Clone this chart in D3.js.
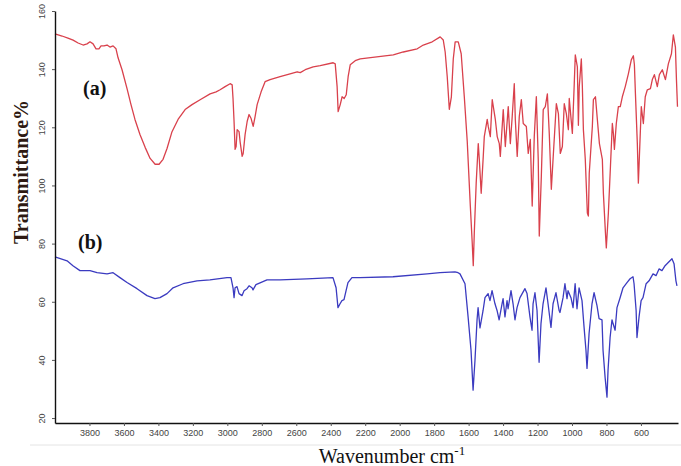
<!DOCTYPE html>
<html>
<head>
<meta charset="utf-8">
<script src="https://cdn.jsdelivr.net/npm/d3@7"></script>
<style>
  body { margin: 0; background: #fff; }
  svg { display: block; }
  .tick text { font-family: Arial, "Liberation Sans", sans-serif; font-size: 9px; fill: #444; }
</style>
</head>
<body>
<svg id="chart"></svg>
<script>
var svgw = 681
var svgh = 466

// wavenumber ticks and transmittance ticks
var xTicks = [3800, 3600, 3400, 3200, 3000, 2800, 2600, 2400, 2200, 2000, 1800, 1600, 1400, 1200, 1000, 800, 600]
var yTicks = [20, 40, 60, 80, 100, 120, 140, 160]

// spectrum (a): [wavenumber, transmittance]
var specA = [
 [4000,152.1],[3959,151.4],[3925,150.7],[3895,150.0],[3866,149.0],[3837,148.3],[3814,148.7],[3797,149.4],
 [3779,148.7],[3762,147.0],[3745,147.0],[3733,148.0],[3716,148.0],[3698,148.3],[3681,147.6],[3663,148.0],
 [3646,147.0],[3634,143.9],[3611,139.8],[3582,133.3],[3559,127.8],[3536,122.7],[3507,117.5],[3477,113.1],
 [3448,109.3],[3419,107.3],[3396,107.3],[3373,109.0],[3350,112.7],[3321,118.5],[3286,122.7],[3245,126.1],
 [3205,127.8],[3158,129.5],[3100,131.5],[3065,132.2],[3042,132.9],[3013,134.0],[2984,135.0],[2972,134.6],
 [2967,129.9],[2961,122.0],[2955,112.4],[2949,113.4],[2943,119.2],[2932,118.5],[2926,115.1],[2914,110.0],
 [2908,111.0],[2897,117.5],[2885,122.0],[2874,124.4],[2862,123.0],[2850,120.3],[2839,123.7],[2827,127.8],
 [2804,132.2],[2781,135.7],[2752,136.4],[2694,137.4],[2636,138.4],[2595,139.1],[2577,138.8],[2548,139.8],
 [2502,140.8],[2461,141.2],[2386,142.2],[2374,141.8],[2363,134.0],[2357,125.4],[2345,127.8],[2334,130.5],
 [2322,129.9],[2310,131.2],[2299,137.4],[2287,141.5],[2258,142.9],[2229,143.5],[2037,144.9],[1979,145.9],
 [1898,147.0],[1863,148.3],[1811,149.4],[1765,151.1],[1747,150.0],[1736,145.9],[1724,137.4],[1712,126.2],
 [1700,130.5],[1689,143.5],[1678,149.4],[1660,149.4],[1643,145.3],[1625,130.5],[1608,115.2],[1590,92.9],
 [1579,80.2],[1573,72.4],[1567,83.7],[1556,100.8],[1544,114.4],[1538,109.0],[1527,97.3],[1515,110.0],
 [1509,116.8],[1492,122.7],[1486,120.3],[1474,116.8],[1463,129.5],[1445,122.7],[1434,116.8],[1422,114.4],
 [1416,110.0],[1399,126.1],[1387,113.4],[1370,127.1],[1358,114.4],[1347,123.7],[1335,135.0],[1329,122.7],
 [1318,110.0],[1306,123.7],[1294,129.5],[1283,121.3],[1265,120.3],[1254,111.0],[1242,115.8],[1231,92.9],
 [1219,116.8],[1207,130.5],[1196,109.0],[1190,82.6],[1178,103.2],[1167,126.1],[1155,127.1],[1143,131.5],
 [1132,117.9],[1120,98.7],[1108,111.0],[1091,128.1],[1079,124.7],[1068,111.0],[1056,113.4],[1045,128.1],
 [1033,124.7],[1021,119.2],[1016,129.9],[998,117.9],[987,135.0],[981,144.9],[969,140.8],[963,120.7],
 [958,134.0],[946,143.5],[940,134.0],[934,119.2],[923,109.0],[911,90.5],[905,89.5],[900,104.2],
 [882,120.3],[876,129.5],[864,130.5],[853,122.7],[841,114.4],[824,109.0],[818,97.3],[806,83.7],
 [801,78.5],[789,90.5],[777,106.5],[766,121.3],[760,117.9],[754,112.4],[743,121.3],[731,127.1],
 [720,127.1],[708,130.5],[691,134.0],[673,138.4],[656,143.2],[644,144.6],[638,141.5],[632,131.5],
 [621,114.4],[615,100.8],[609,110.0],[598,127.1],[586,121.3],[575,130.5],[563,132.9],[545,133.3],
 [534,136.4],[522,138.1],[505,134.0],[493,138.1],[476,139.8],[458,136.4],[441,141.8],[423,145.3],
 [412,151.8],[400,147.6],[394,136.4],[388,127.1]
]

// spectrum (b): [wavenumber, transmittance]
var specB = [
 [4000,75.4],[3930,74.1],[3896,72.4],[3855,70.7],[3797,70.7],[3756,70.0],[3698,69.6],[3663,70.0],
 [3623,68.3],[3582,66.6],[3524,64.5],[3466,62.1],[3420,61.1],[3391,61.4],[3350,62.8],[3315,64.8],
 [3257,66.2],[3176,67.2],[3101,67.5],[3002,68.3],[2979,68.3],[2967,64.8],[2961,61.4],[2955,64.8],
 [2944,65.2],[2932,62.8],[2915,62.1],[2903,63.8],[2886,64.5],[2874,65.5],[2857,64.8],[2851,64.1],
 [2834,65.9],[2770,67.5],[2694,67.5],[2538,67.9],[2387,68.3],[2369,64.8],[2358,58.0],[2346,59.3],
 [2335,60.4],[2323,60.7],[2311,63.8],[2300,66.6],[2277,68.3],[2230,68.3],[2039,68.6],[1841,69.6],
 [1766,70.0],[1679,70.3],[1661,70.0],[1650,69.6],[1621,66.2],[1603,54.8],[1586,43.3],[1574,29.6],
 [1563,39.9],[1551,53.8],[1545,58.0],[1534,51.0],[1516,57.0],[1505,61.4],[1487,62.8],[1476,60.4],
 [1464,63.8],[1447,59.3],[1435,57.0],[1423,53.8],[1406,59.3],[1400,61.1],[1389,54.8],[1377,60.4],
 [1371,57.6],[1354,63.8],[1342,59.3],[1331,53.8],[1319,58.0],[1302,61.4],[1273,64.5],[1261,62.8],
 [1244,54.8],[1232,50.2],[1226,59.3],[1215,63.1],[1203,57.0],[1191,39.2],[1180,52.5],[1168,59.3],
 [1151,64.8],[1139,59.3],[1122,51.2],[1110,59.3],[1093,63.1],[1075,57.0],[1070,56.3],[1052,61.4],
 [1041,66.2],[1029,61.1],[1023,63.8],[1006,61.4],[994,58.0],[982,66.2],[971,57.6],[959,64.8],
 [942,60.4],[930,51.2],[919,43.3],[913,37.1],[901,49.1],[884,59.3],[872,63.1],[855,58.7],
 [843,54.2],[826,53.8],[820,43.3],[808,34.0],[797,27.2],[791,36.4],[779,47.7],[768,53.8],
 [762,52.5],[750,50.2],[739,58.0],[721,61.4],[704,64.8],[681,66.6],[663,67.9],[646,68.6],
 [640,66.2],[628,57.0],[623,47.7],[611,54.8],[599,60.4],[588,61.4],[570,66.2],[553,67.2],
 [530,69.6],[512,69.0],[495,71.3],[478,70.7],[460,72.4],[443,73.4],[420,74.8],[408,73.1],
 [397,67.2],[391,65.5]
]

var colorA = "#d9414c"
var colorB = "#3b3bc0"

var svg = d3.select("#chart")
    .attr("width", svgw)
    .attr("height", svgh)

var xScale = d3.scaleLinear()
    .domain([4000, 385])
    .range([55, 678])

var yScale = d3.scaleLinear()
    .domain([18.3, 160])
    .range([423, 11])

// faint border line under the axis labels
svg.append("line")
    .attr("x1", 30).attr("x2", svgw)
    .attr("y1", 445).attr("y2", 445)
    .attr("stroke", "#e4e4e4")
    .attr("stroke-width", 1)

var line = d3.line()
    .x(function(d){return xScale(d[0])})
    .y(function(d){return yScale(d[1])})

svg.append("path")
    .datum(specA)
    .attr("d", line)
    .attr("fill", "none")
    .attr("stroke", colorA)
    .attr("stroke-width", 1.3)
    .attr("stroke-linejoin", "round")

svg.append("path")
    .datum(specB)
    .attr("d", line)
    .attr("fill", "none")
    .attr("stroke", colorB)
    .attr("stroke-width", 1.3)
    .attr("stroke-linejoin", "round")

// axes
var xAxis = d3.axisBottom(xScale)
    .tickValues(xTicks)
    .tickFormat(d3.format("d"))
    .tickSize(3)
    .tickSizeOuter(0)
    .tickPadding(4)

var gx = svg.append("g")
    .attr("transform", "translate(0,423)")
    .call(xAxis)
gx.select(".domain").attr("stroke", "#111").attr("stroke-width", 1.6)
gx.selectAll(".tick line").attr("stroke", "#555")

var yAxis = d3.axisLeft(yScale)
    .tickValues(yTicks)
    .tickFormat(d3.format("d"))
    .tickSize(3)
    .tickSizeOuter(0)

var gy = svg.append("g")
    .attr("transform", "translate(55,0)")
    .call(yAxis)
gy.select(".domain").attr("stroke", "#111").attr("stroke-width", 1.4)
gy.selectAll(".tick line").attr("stroke", "#555")
gy.selectAll(".tick text")
    .attr("transform", "rotate(-90)")
    .attr("x", 0)
    .attr("y", -10)
    .attr("dy", 0)
    .style("text-anchor", "middle")

// labels
var serif = "'Liberation Serif', 'Times New Roman', serif"

svg.append("text")
    .attr("transform", "translate(28,172) rotate(-90)")
    .attr("text-anchor", "middle")
    .style("font-family", serif)
    .style("font-weight", "bold")
    .style("font-size", "20px")
    .attr("fill", "#2e1a12")
    .text("Transmittance%")

var xt = svg.append("text")
    .attr("x", 392)
    .attr("y", 463)
    .attr("text-anchor", "middle")
    .style("font-family", serif)
    .style("font-size", "20px")
    .attr("fill", "#111")
xt.append("tspan").text("Wavenumber cm")
xt.append("tspan").attr("dy", -8).style("font-size", "13px").text("-1")

svg.append("text")
    .attr("x", 83).attr("y", 95)
    .style("font-family", serif)
    .style("font-weight", "bold")
    .style("font-size", "20px")
    .attr("fill", "#111")
    .text("(a)")

svg.append("text")
    .attr("x", 78).attr("y", 249)
    .style("font-family", serif)
    .style("font-weight", "bold")
    .style("font-size", "20px")
    .attr("fill", "#111")
    .text("(b)")
</script>
</body>
</html>
